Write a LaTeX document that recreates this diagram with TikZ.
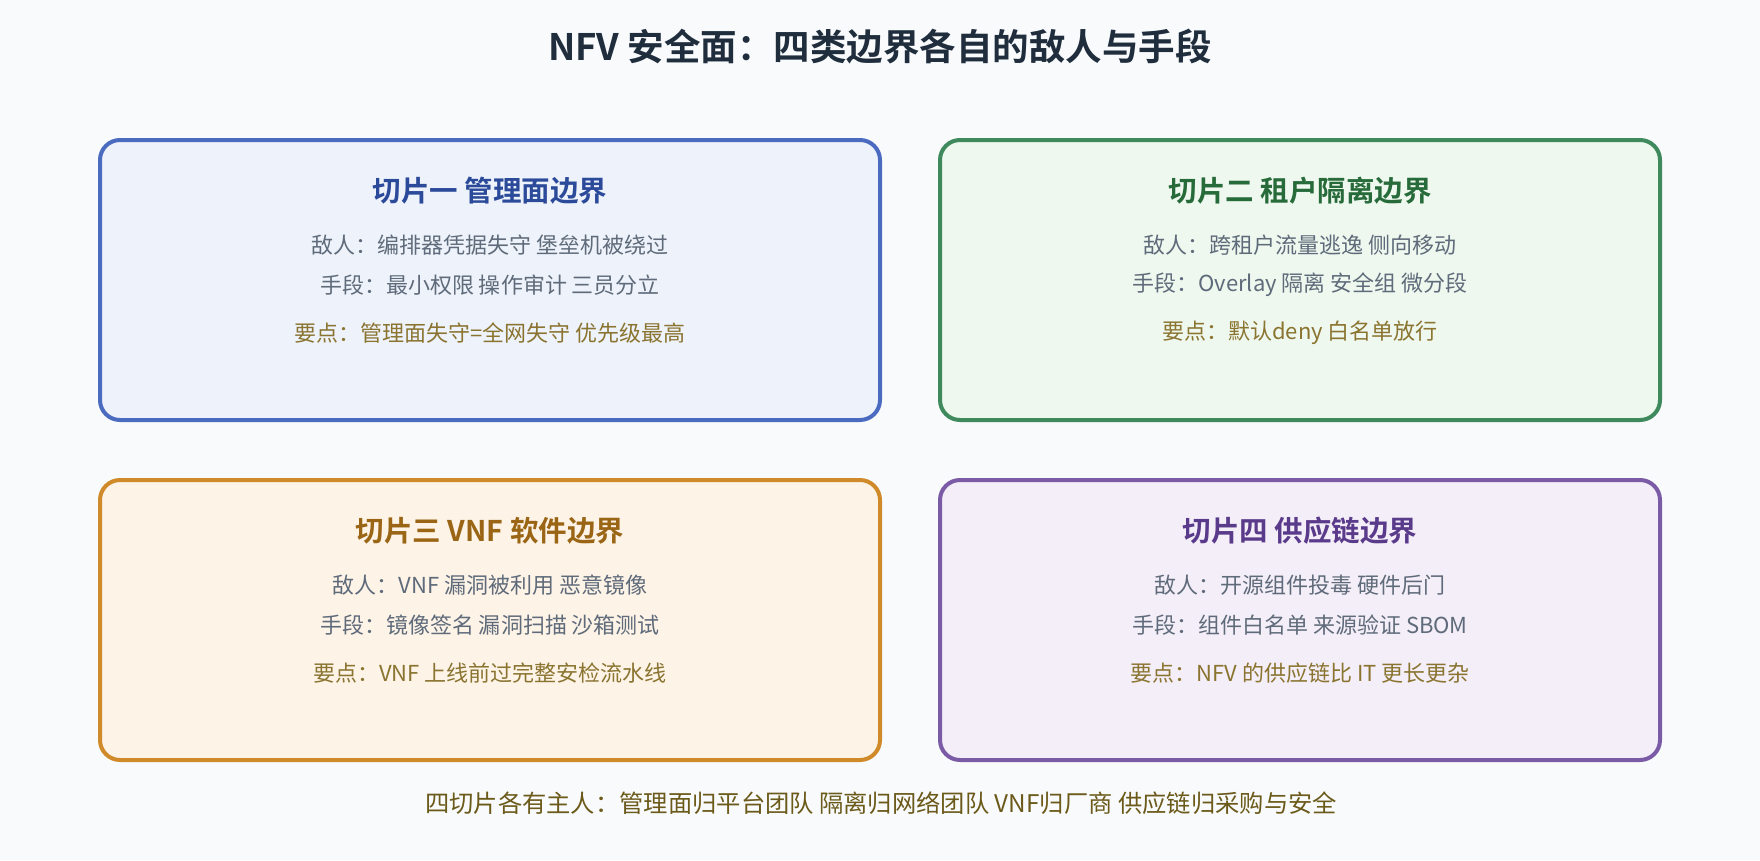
\documentclass[tikz,border=0pt]{standalone}
\usepackage{fontspec}
\setmainfont{Noto Sans CJK SC}
\newfontfamily\cjkb{Noto Sans CJK SC Bold}
\definecolor{bgc}{HTML}{F8FAFC}
\definecolor{titlec}{HTML}{1F2D3D}
\definecolor{bodyc}{HTML}{5F6B7A}
\definecolor{keyc}{HTML}{8A7430}
\definecolor{footc}{HTML}{6B5A1A}
\definecolor{bAs}{HTML}{4A6BBF}\definecolor{bAf}{HTML}{EEF3FB}\definecolor{bAt}{HTML}{2C4A9A}
\definecolor{bBs}{HTML}{3E8A5C}\definecolor{bBf}{HTML}{EEF8EF}\definecolor{bBt}{HTML}{276B3A}
\definecolor{bCs}{HTML}{D08A2A}\definecolor{bCf}{HTML}{FDF3E7}\definecolor{bCt}{HTML}{9A6515}
\definecolor{bDs}{HTML}{7B5AA6}\definecolor{bDf}{HTML}{F4EEF8}\definecolor{bDt}{HTML}{5A3A8A}
\tikzset{
  panel/.style={draw=#1s, fill=#1f, line width=4pt, rounded corners=20pt},
  ptitle/.style={text=#1t, font=\cjkb\fontsize{28.5}{32}\selectfont, anchor=center, inner sep=0pt},
  pbody/.style={text=bodyc, font=\fontsize{22}{26}\selectfont, anchor=center, inner sep=0pt},
  pkey/.style={text=keyc, font=\fontsize{22}{26}\selectfont, anchor=center, inner sep=0pt},
}
\begin{document}
\begin{tikzpicture}[x=1pt,y=-1pt]
\fill[bgc] (0,0) rectangle (1760,860);
\useasboundingbox (0,0) rectangle (1760,860);
\node[text=titlec, font=\cjkb\fontsize{36.5}{42}\selectfont, inner sep=0pt] (title) at (880,47) {NFV 安全面：四类边界各自的敌人与手段};

% panel 1
\draw[panel=bA] (100,140) rectangle (880,420);
\node[ptitle=bA] (t1) at (490,191) {切片一 管理面边界};
\node[pbody] (e1) at (490,245) {敌人：编排器凭据失守 堡垒机被绕过};
\node[pbody] (m1) at (490,285) {手段：最小权限 操作审计 三员分立};
\node[pkey] (k1) at (490,333) {要点：管理面失守=全网失守 优先级最高};

% panel 2
\draw[panel=bB] (940,140) rectangle (1660,420);
\node[ptitle=bB] (t2) at (1300,191) {切片二 租户隔离边界};
\node[pbody] (e2) at (1300,245) {敌人：跨租户流量逃逸 侧向移动};
\node[pbody] (m2) at (1300,285) {手段：Overlay 隔离 安全组 微分段};
\node[pkey] (k2) at (1300,333) {要点：默认deny 白名单放行};

% panel 3
\draw[panel=bC] (100,480) rectangle (880,760);
\node[ptitle=bC] (t3) at (490,531) {切片三 VNF 软件边界};
\node[pbody] (e3) at (490,585) {敌人：VNF 漏洞被利用 恶意镜像};
\node[pbody] (m3) at (490,625) {手段：镜像签名 漏洞扫描 沙箱测试};
\node[pkey] (k3) at (490,673) {要点：VNF 上线前过完整安检流水线};

% panel 4
\draw[panel=bD] (940,480) rectangle (1660,760);
\node[ptitle=bD] (t4) at (1300,531) {切片四 供应链边界};
\node[pbody] (e4) at (1300,585) {敌人：开源组件投毒 硬件后门};
\node[pbody] (m4) at (1300,625) {手段：组件白名单 来源验证 SBOM};
\node[pkey] (k4) at (1300,673) {要点：NFV 的供应链比 IT 更长更杂};

\node[text=footc, font=\fontsize{24.3}{28}\selectfont, inner sep=0pt] (foot) at (881,803) {四切片各有主人：管理面归平台团队 隔离归网络团队 VNF归厂商 供应链归采购与安全};
\end{tikzpicture}
\end{document}
